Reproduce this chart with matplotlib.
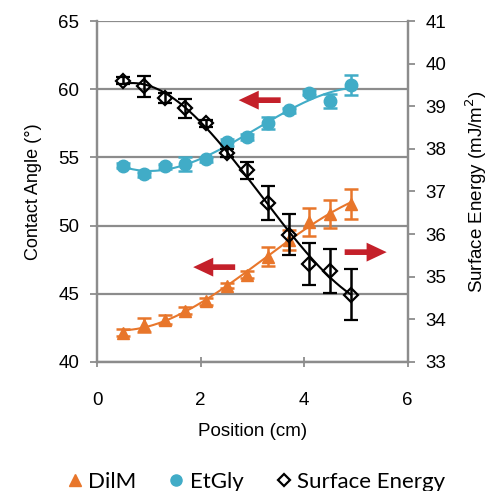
import numpy as np
import matplotlib
matplotlib.use("Agg")
import matplotlib.pyplot as plt
from matplotlib.lines import Line2D

# ---- data ----
position = [0.5, 0.9, 1.3, 1.7, 2.1, 2.5, 2.9, 3.3, 3.7, 4.1, 4.5, 4.9]
dilm = [42.15, 42.7, 43.1, 43.75, 44.45, 45.6, 46.4, 47.7, 48.95, 50.25, 50.85, 51.6]
dilm_err = [0.25, 0.5, 0.35, 0.25, 0.25, 0.2, 0.25, 0.7, 0.75, 1.05, 1.0, 1.1]
etgly = [54.4, 53.75, 54.35, 54.5, 54.85, 56.1, 56.5, 57.55, 58.45, 59.75, 59.15, 60.3]
etgly_err = [0.2, 0.2, 0.2, 0.5, 0.2, 0.25, 0.2, 0.45, 0.2, 0.2, 0.5, 0.75]
surf = [39.6, 39.47, 39.2, 38.95, 38.6, 37.9, 37.5, 36.72, 35.98, 35.3, 35.13, 34.58]
surf_err = [0.08, 0.24, 0.12, 0.22, 0.08, 0.1, 0.2, 0.4, 0.48, 0.49, 0.52, 0.6]

left_ticks = [40, 45, 50, 55, 60, 65]
right_ticks = [33, 34, 35, 36, 37, 38, 39, 40, 41]
x_ticks = [0, 2, 4, 6]

ORANGE = "#e8762b"
BLUE = "#41acc7"
RED = "#c4202a"
GRAY = "#8c8c8c"

plt.rcParams['font.family'] = ['Liberation Sans', 'DejaVu Sans']

fig = plt.figure(figsize=(4.94, 4.91), dpi=100)
ax = fig.add_axes([0.197, 0.263, 0.628, 0.694])
ax2 = ax.twinx()

ax.set_xlim(0, 6)
ax.set_ylim(40, 65)
ax2.set_ylim(33, 41)
ax.set_xticks(x_ticks)
ax.set_yticks(left_ticks)
ax2.set_yticks(right_ticks)

for a in (ax, ax2):
    for s in a.spines.values():
        s.set_color(GRAY)
        s.set_linewidth(1.6)
    a.spines['top'].set_visible(False)
    a.tick_params(colors=GRAY, labelcolor='black', labelsize=13.5, width=1.3, length=5)
ax.tick_params(axis='y', pad=8)
ax2.tick_params(axis='y', pad=8)
ax.tick_params(axis='x', direction='inout', length=7, pad=18)

ax.grid(axis='y', color=GRAY, linewidth=1.6)
ax.set_axisbelow(True)

xs = np.linspace(min(position), max(position), 200)

def trend(y, deg=3):
    c = np.polyfit(position, y, deg)
    return np.polyval(c, xs)

# DilM
ax.plot(xs, trend(dilm), color=ORANGE, lw=1.5, zorder=2)
ax.errorbar(position, dilm, yerr=dilm_err, fmt='^', color=ORANGE, ms=8.5,
            ecolor=ORANGE, elinewidth=1.8, capsize=5, capthick=1.8, zorder=3)
# EtGly
ax.plot(xs, trend(etgly), color=BLUE, lw=1.5, zorder=2)
ax.errorbar(position, etgly, yerr=etgly_err, fmt='o', color=BLUE, ms=9,
            ecolor=BLUE, elinewidth=1.8, capsize=5, capthick=1.8, zorder=3)
# Surface energy
ax2.plot(xs, trend(surf), color='black', lw=1.5, zorder=2)
ax2.errorbar(position, surf, yerr=surf_err, fmt='D', mfc='none', mec='black', mew=1.6,
             ms=7.5, ecolor='black', elinewidth=1.8, capsize=5, capthick=1.8, zorder=3)

ax.set_xlabel("Position (cm)", fontsize=13.5, labelpad=10)
ax.set_ylabel("Contact Angle (°)", fontsize=13, labelpad=12)
ax2.set_ylabel("Surface Energy (mJ/m$^2$)", fontsize=13.5, labelpad=12)

# red arrows
astyle = dict(arrowstyle='simple,head_length=0.85,head_width=0.8,tail_width=0.24',
              color=RED, lw=0, mutation_scale=17)
ax.annotate('', xy=(2.68, 59.2), xytext=(3.6, 59.2), arrowprops=astyle)
ax.annotate('', xy=(1.8, 46.95), xytext=(2.72, 46.95), arrowprops=astyle)
ax.annotate('', xy=(5.65, 48.05), xytext=(4.73, 48.05), arrowprops=astyle)

handles = [
    Line2D([], [], marker='^', color=ORANGE, ls='none', ms=8.5),
    Line2D([], [], marker='o', color=BLUE, ls='none', ms=8),
    Line2D([], [], marker='D', mfc='none', mec='black', mew=1.6, ls='none', ms=6.5),
]
fig.legend(handles, ['DilM', 'EtGly', 'Surface Energy'], loc='center',
           bbox_to_anchor=(0.515, 0.018), ncol=3, frameon=False,
           prop={'family': 'Lato', 'size': 16}, handletextpad=0.1,
           columnspacing=1.3, handlelength=1.0)

fig.savefig("out.png", dpi=100)
